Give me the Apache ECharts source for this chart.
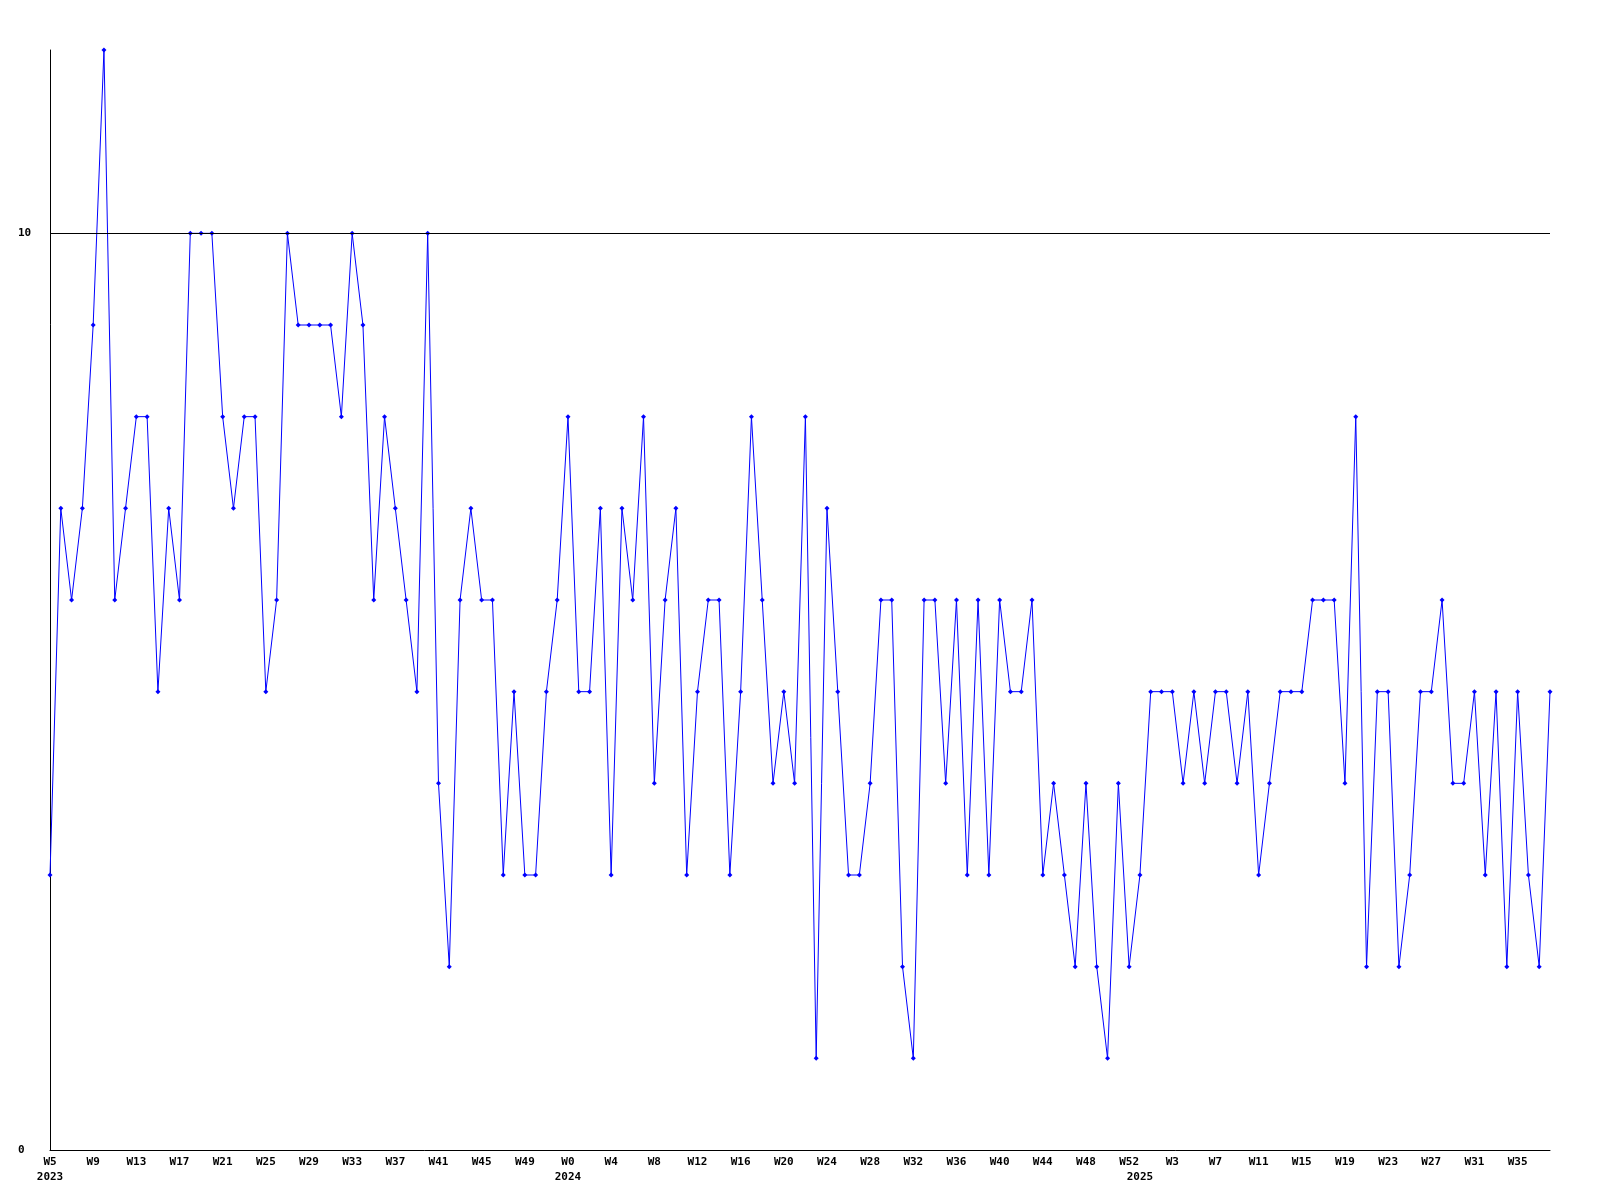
<!DOCTYPE html>
<html>
<head>
<meta charset="utf-8">
<script src="https://cdn.jsdelivr.net/npm/echarts@6/dist/echarts.min.js"></script>
<style>
  html, body { margin: 0; padding: 0; background: #ffffff; }
  #chart { width: 1600px; height: 1200px; }
</style>
</head>
<body>
<div id="chart"></div>
<script>
// Week ranges per year (category axis)
const yearRanges = [
  { year: 2023, from: 5, to: 52 },
  { year: 2024, from: 0, to: 52 },
  { year: 2025, from: 0, to: 38 }
];

// Weekly values
const values = [
  3, 7, 6, 7, 9, 12, 6, 7, 8, 8, 5, 7, 6, 10, 10, 10, 8, 7, 8, 8, 5, 6, 10, 9,
  9, 9, 9, 8, 10, 9, 6, 8, 7, 6, 5, 10, 4, 2, 6, 7, 6, 6, 3, 5, 3, 3, 5,
  6, 8, 5, 5, 7, 3, 7, 6, 8, 4, 6, 7, 3, 5, 6, 6, 3, 5, 8, 6, 4, 5, 4,
  8, 1, 7, 5, 3, 3, 4, 6, 6, 2, 1, 6, 6, 4, 6, 3, 6, 3, 6, 5, 5, 6, 3,
  4, 3, 2, 4, 2, 1, 4, 2, 3, 5, 5, 5, 4, 5, 4, 5, 5, 4, 5, 3, 4, 5, 5,
  5, 6, 6, 6, 4, 8, 2, 5, 5, 2, 3, 5, 5, 6, 4, 4, 5, 3, 5, 2, 5, 3, 2, 5
];

const referenceLine = 10;
const yTicks = [0, 10];

const categories = [];
const yearOf = [];
yearRanges.forEach(r => {
  for (let w = r.from; w <= r.to; w++) {
    categories.push('W' + w);
    yearOf.push(r.year);
  }
});

function isYearStart(i) {
  return i === 0 || yearOf[i] !== yearOf[i - 1];
}
function showLabel(i) {
  return i % 4 === 0 || isYearStart(i);
}

const font = { fontFamily: 'DejaVu Sans Mono', fontWeight: 'bold', fontSize: 11, color: '#000' };

const chart = echarts.init(document.getElementById('chart'), null, { renderer: 'canvas' });
chart.setOption({
  animation: false,
  backgroundColor: '#ffffff',
  grid: { left: 50, right: 50, top: 50, bottom: 50, containLabel: false },
  xAxis: {
    type: 'category',
    data: categories,
    boundaryGap: false,
    axisLine: { show: true, lineStyle: { color: '#000', width: 1 } },
    axisTick: { show: false },
    splitLine: { show: false },
    axisLabel: Object.assign({
      interval: function (i) { return showLabel(i); },
      margin: 5,
      lineHeight: 15,
      align: 'center',
      formatter: function (v, i) {
        const wk = (i % 4 === 0) ? v : ' ';
        return isYearStart(i) ? wk + '\n' + yearOf[i] : wk;
      }
    }, font)
  },
  yAxis: {
    type: 'value',
    min: 0,
    max: 12,
    interval: 10,
    axisLine: { show: true, lineStyle: { color: '#000', width: 1 } },
    axisTick: { show: false },
    splitLine: { show: false },
    axisLabel: Object.assign({
      align: 'left',
      margin: 32,
      formatter: function (v) { return yTicks.indexOf(v) >= 0 ? String(v) : ''; }
    }, font)
  },
  series: [{
    type: 'line',
    data: values,
    symbol: 'diamond',
    symbolSize: 5,
    showAllSymbol: true,
    lineStyle: { color: '#0000ff', width: 1 },
    itemStyle: { color: '#0000ff' },
    markLine: {
      silent: true,
      symbol: 'none',
      label: { show: false },
      lineStyle: { color: '#000', width: 1, type: 'solid' },
      data: [{ yAxis: referenceLine }]
    }
  }]
});
</script>
</body>
</html>
